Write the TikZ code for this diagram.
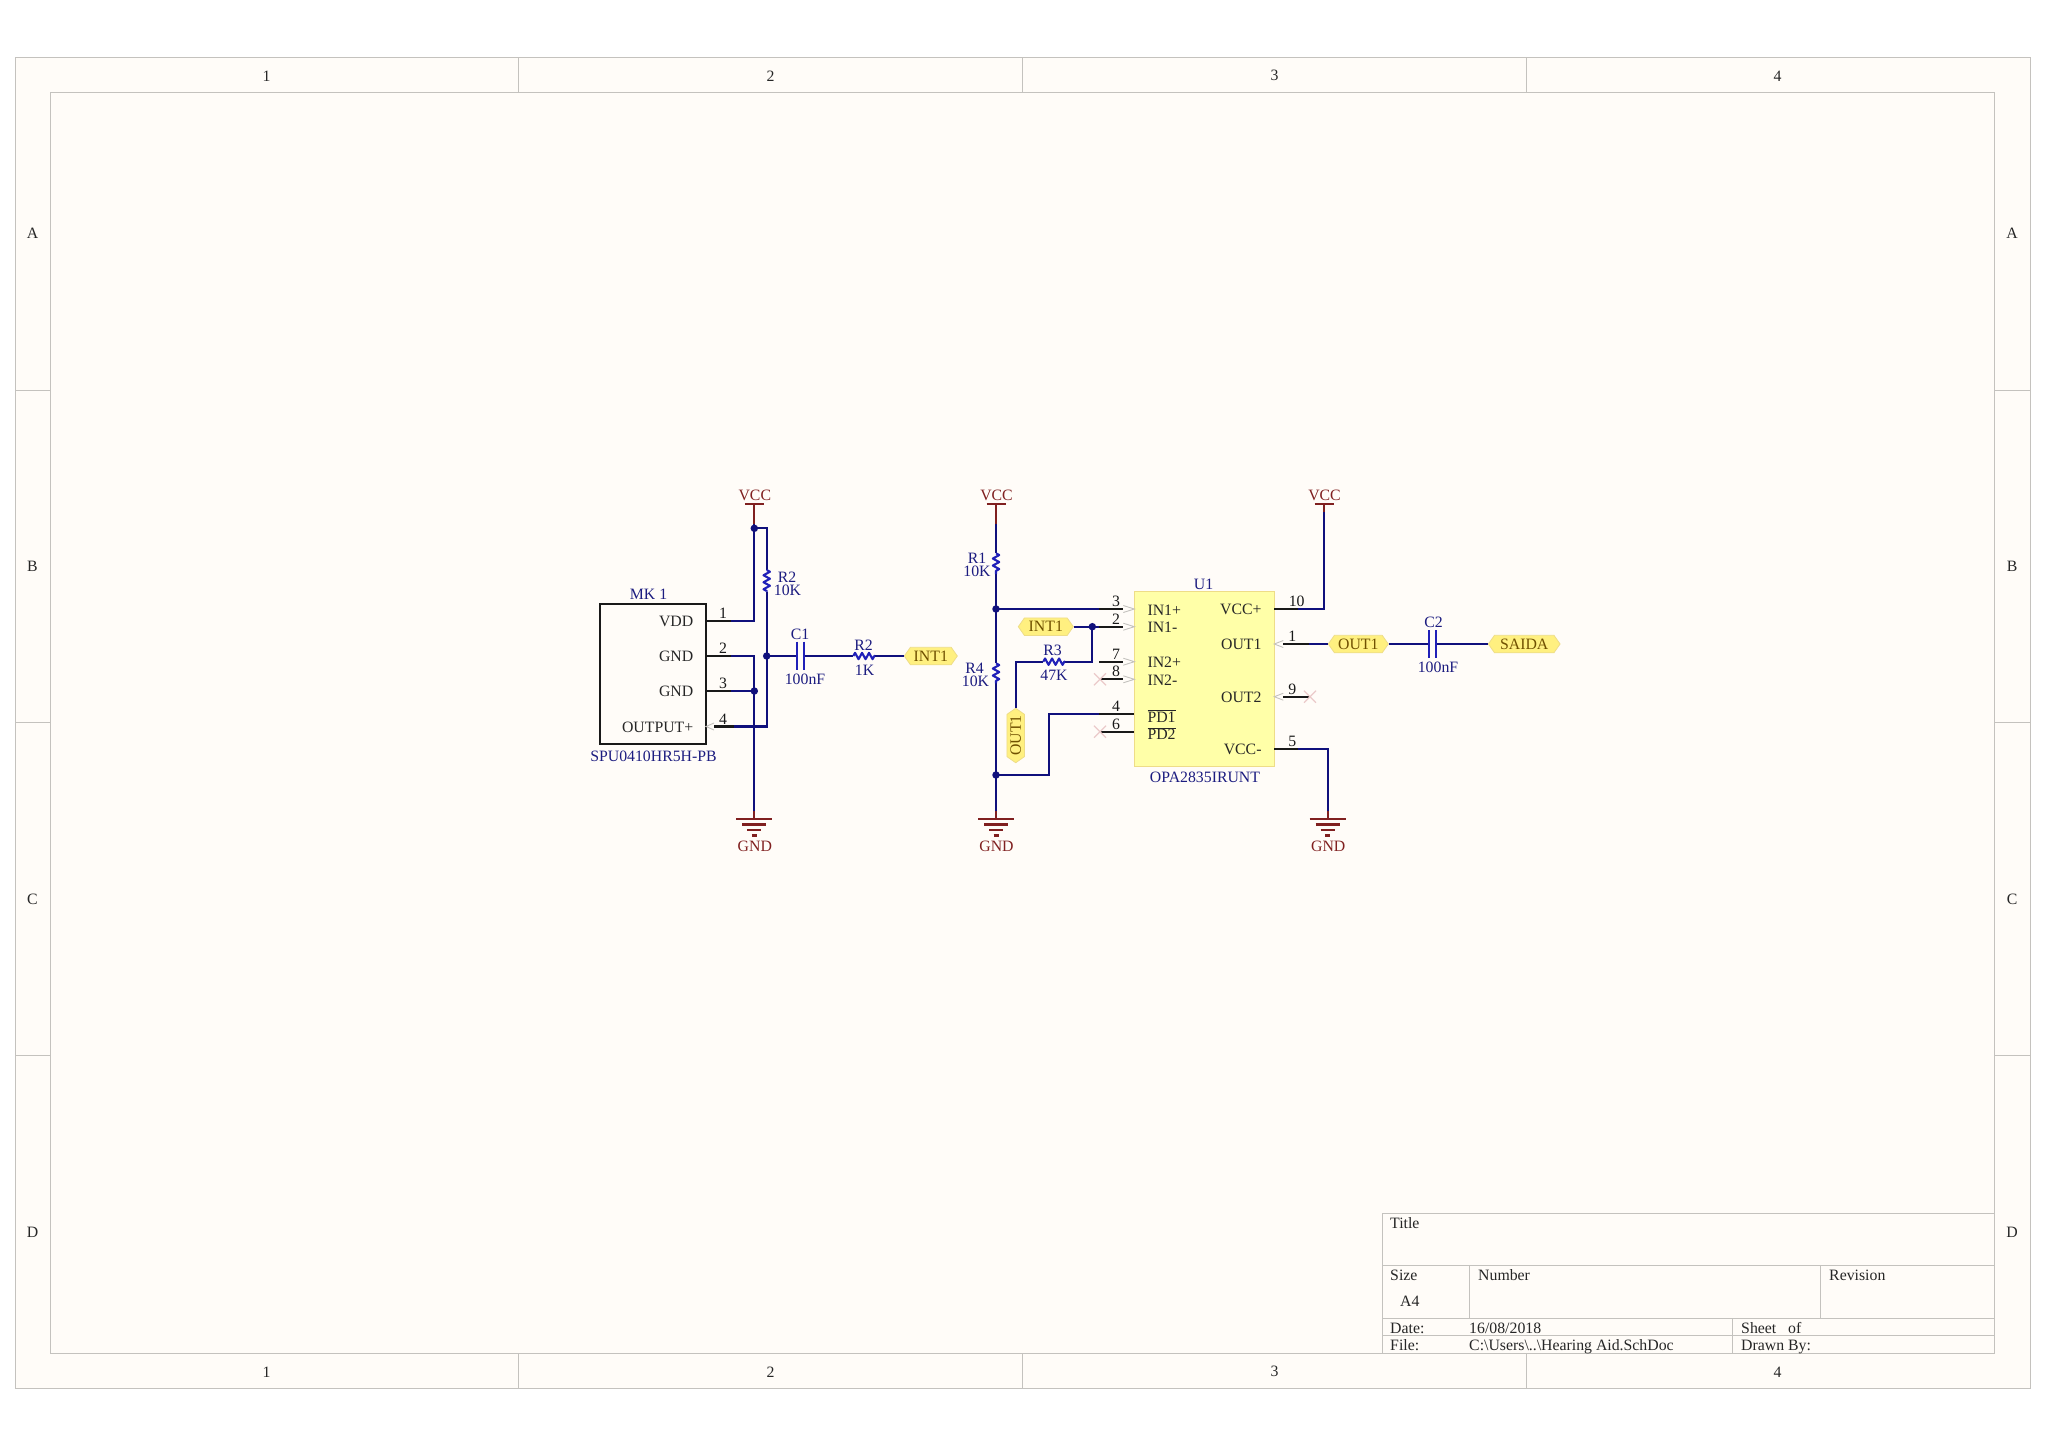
\documentclass[tikz,border=0pt]{standalone}
\usepackage{fontspec}
\setmainfont{Liberation Serif}
\usepackage{xcolor}
\usetikzlibrary{shapes.symbols,decorations.pathmorphing}
\definecolor{sheetbg}{HTML}{FFFCF8}
\definecolor{framegrey}{HTML}{C4C2BE}
\definecolor{wireblue}{HTML}{10107C}
\definecolor{partblue}{HTML}{2020B8}
\definecolor{textblue}{HTML}{1C1C80}
\definecolor{powerred}{HTML}{802020}
\definecolor{portfill}{HTML}{FFF080}
\definecolor{portline}{HTML}{EEDD88}
\definecolor{porttext}{HTML}{705000}
\definecolor{chipfill}{HTML}{FFFFA8}
\definecolor{crossred}{HTML}{EBCACA}
\newcommand{\vccport}[2]{% name, x
  \coordinate (#1) at (#2,504);
  \draw[powerline] (#2-9.5,504) -- (#2+9.5,504);
  \node[powertext] (#1t) at (#2+.5,495) {VCC};
}
\newcommand{\gndport}[2]{% name, x
  \coordinate (#1) at (#2,819);
  \draw[powerline] (#2-18,819) -- (#2+18,819) (#2-12,824.5) -- (#2+12,824.5)
    (#2-7,830) -- (#2+7,830) (#2-2.5,835.5) -- (#2+2.5,835.5);
  \node[powertext] (#1t) at (#2+.5,846) {GND};
}
\begin{document}
\begin{tikzpicture}[x=1pt,y=-1pt,
every node/.style={font=\fontsize{15.8}{17}\selectfont, inner sep=0pt},
frameline/.style={draw=framegrey, line width=1pt},
sheetlabel/.style={text=black!85, yshift=-.8pt},
wire/.style={draw=wireblue, line width=2.1pt},
pinline/.style={draw=black!90, line width=2.1pt},
pinmark/.style={draw=framegrey, line width=.9pt},
crossmark/.style={draw=crossred, line width=1.2pt},
powerline/.style={draw=powerred, line width=2.1pt},
powertext/.style={text=powerred, yshift=-.8pt},
junction/.style={circle, fill=wireblue, minimum size=7.5pt},
parttext/.style={text=textblue, yshift=-.8pt},
pintext/.style={text=black!85, yshift=-.8pt},
pinlabel/.style={text=black!90, yshift=-.8pt},
port/.style={signal, signal to=east and west, signal pointer angle=110, draw=portline, fill=portfill,
  line width=.8pt, text=porttext, minimum height=17.5pt},
resistor/.style={draw=partblue, line width=2.1pt, line join=round, decorate,
  decoration={zigzag, amplitude=3.2pt, segment length=7pt}},
capplate/.style={draw=partblue, line width=2.2pt}]
\path[use as bounding box, fill=white] (0,0) rectangle (2048,1448);
% sheet border
\path[frameline, fill=sheetbg] (15,57.5) rectangle (2030,1388);
\draw[frameline] (50.5,92) rectangle (1994,1353);
\foreach \x in {518.75,1022.5,1526.25} {
  \draw[frameline] (\x,57.5) -- (\x,92) (\x,1353) -- (\x,1388);
}
\foreach \y in {390,722.7,1055.4} {
  \draw[frameline] (15,\y) -- (50.5,\y) (1994,\y) -- (2030,\y);
}
\foreach \x/\n in {266.5/1,770.5/2,1274.5/3,1777.5/4} {
  \node[sheetlabel] (top\n) at (\x,75) {\n};
  \node[sheetlabel] (bot\n) at (\x,1371) {\n};
}
\foreach \y/\n in {232.7/A,565.5/B,898.5/C,1231.5/D} {
  \node[sheetlabel] (left\n) at (32.5,\y) {\n};
  \node[sheetlabel] (right\n) at (2012,\y) {\n};
}
% title block
\draw[frameline] (1382,1353) -- (1382,1213) -- (1994,1213);
\draw[frameline] (1382,1265) -- (1994,1265) (1382,1318) -- (1994,1318) (1382,1335) -- (1994,1335);
\draw[frameline] (1469,1265) -- (1469,1318) (1820,1265) -- (1820,1318) (1732,1318) -- (1732,1353);
\foreach \x/\y/\t in {1390/1223/Title,1390/1275/Size,1400/1301/A4,1478/1275/Number,1829/1275/Revision,
  1390/1328/Date:,1469/1328/16\slash 08\slash 2018,1741/1328/Sheet\ \ \ of,
  1390/1345/File:,1469/1345/C:\textbackslash Users\textbackslash ..\textbackslash Hearing Aid.SchDoc,1741/1345/Drawn By:} {
  \node[sheetlabel, anchor=base west] at (\x,\y+5) {\t};
}
% microphone
\path[draw=black!90, line width=2pt, fill=sheetbg] (600,603.5) rectangle (705.5,744);
\node[parttext] (mk) at (648.5,593.5) {MK 1};
\node[parttext] (mkval) at (653.5,755.5) {SPU0410HR5H-PB};
\foreach \y/\n/\t in {621/1/VDD,656/2/GND,691/3/GND,726.5/4/OUTPUT+} {
  \coordinate (mk\n) at (706,\y);
  \node[pintext, anchor=east] (mkt\n) at (693.5,\y) {\t};
  \node[pinlabel] (mkn\n) at (723,\y-8.5) {\n};
}
% power ports
\vccport{vcca}{754.3}
\vccport{vccb}{996}
\vccport{vccc}{1324}
\gndport{gnda}{754.3}
\gndport{gndb}{996}
\gndport{gndc}{1327.7}
% input network
\coordinate (topdot) at (754.3,528.3);
\coordinate (rtwotop) at (766.7,570);
\coordinate (rtwobot) at (766.7,591.7);
\coordinate (cnode) at (766.7,656);
\coordinate (cleft) at (796.7,656);
\coordinate (cright) at (804,656);
\coordinate (rinl) at (853.3,656);
\coordinate (rinr) at (875,656);
\node[port, minimum width=53pt] (intone) at (930.8,656) {INT1};
\node[parttext] (rtwoa) at (787,576) {R2};
\node[parttext] (rtwob) at (787.5,590) {10K};
\node[parttext] (ca) at (800,634) {C1};
\node[parttext] (cb) at (805,679) {100nF};
\node[parttext] (rina) at (863.5,644) {R2};
\node[parttext] (rinb) at (864.5,669) {1K};
\draw[wire] (vcca) -- (mk1 -| topdot) -- (mk1);
\draw[wire] (topdot) -- (topdot -| rtwotop) -- (rtwotop);
\draw[wire] (rtwobot) -- (mk4 -| rtwobot) -- ([xshift=8pt]mk4);
\draw[wire] (mk2) -- (mk2 -| gnda) -- (gnda);
\draw[wire] (mk3) -- (mk3 -| gnda);
\draw[wire] (cnode) -- (cleft) (cright) -- (rinl) (rinr) -- (intone.west);
\draw[resistor] (rtwotop) -- (rtwobot);
\draw[resistor] (rinl) -- (rinr);
\draw[capplate] (796.7,641.7) -- (796.7,670) (804,641.7) -- (804,670);
\foreach \n/\l in {1/25,2/25,3/25} {
  \draw[pinline] (mk\n) -- ([xshift=\l pt]mk\n);
}
\draw[pinline] ([xshift=8pt]mk4) -- ([xshift=28pt]mk4);
\draw[pinmark] ([xshift=8pt,yshift=-3.5pt]mk4) -- (mk4) -- ([xshift=8pt,yshift=3.5pt]mk4);
\node[junction] (dota) at (topdot) {};
\node[junction] (dotb) at (cnode) {};
\node[junction] (dotc) at (mk3 -| gnda) {};
\draw[powerline] (vcca) -- ++(0,20);
\foreach \n in {a} { \draw[powerline] (gnd\n) -- ++(0,-8); }
% amplifier
\path[fill=chipfill, draw=portline, line width=1pt] (1134.3,591.7) rectangle (1274.3,766);
\node[parttext] (uname) at (1203.5,583.5) {U1};
\node[parttext] (uval) at (1205,776.5) {OPA2835IRUNT};
\foreach \y/\n/\t/\d in {609/3/IN1+/600.7,626.7/2/IN1-/618.3,661.7/7/IN2+/653.3,679.3/8/IN2-/670.7} {
  \coordinate (pin\n) at (1134.3,\y);
  \node[pintext, anchor=west] (pint\n) at (1147.3,\y) {\t};
  \node[pinlabel] (pinn\n) at (1116,\d) {\n};
  \draw[pinline] ([xshift=-35pt]pin\n) -- ([xshift=-11pt]pin\n);
  \draw[pinmark] ([xshift=-11pt,yshift=-3.5pt]pin\n) -- (pin\n) -- ([xshift=-11pt,yshift=3.5pt]pin\n);
}
\foreach \y/\n/\d in {714/4/705.7,731.7/6/724} {
  \coordinate (pin\n) at (1134.3,\y);
  \node[pinlabel] (pinn\n) at (1116,\d) {\n};
  \draw[pinline] ([xshift=-35pt]pin\n) -- (pin\n);
}
\node[pintext, anchor=west] (pint4) at (1147.3,715) {$\overline{\hbox{PD1}}$};
\node[pintext, anchor=west] (pint6) at (1147.3,732.7) {$\overline{\hbox{PD2}}$};
\foreach \y/\n/\t/\d in {609/10/VCC+/600.7,644/1/OUT1/635.7,696.7/9/OUT2/688.3,749/5/VCC-/740.7} {
  \coordinate (pout\n) at (1274.3,\y);
  \node[pintext, anchor=east] (poutt\n) at (1261.7,\y) {\t};
}
\node[pinlabel] (poutn10) at (1296.7,600.7) {10};
\node[pinlabel] (poutn1) at (1292.3,635.7) {1};
\node[pinlabel] (poutn9) at (1292.3,688.3) {9};
\node[pinlabel] (poutn5) at (1292.3,740.7) {5};
\coordinate (rfourtop) at (996,663.3);
\coordinate (rfourbot) at (996,683.3);
\coordinate (ronetop) at (996,553.3);
\coordinate (ronebot) at (996,574);
\coordinate (pddot) at (996,775);
\coordinate (feed) at (1092.3,626.7);
\coordinate (rfbr) at (1065,661.7);
\coordinate (rfbl) at (1043.3,661.7);
\node[port, rotate=90, minimum width=54.5pt] (outfb) at (1015.7,735.5) {OUT1};
\node[port, minimum width=55pt] (intfb) at (1045.8,626.7) {INT1};
\node[port, minimum width=60pt] (outone) at (1358.3,644) {OUT1};
\node[port, minimum width=71.7pt] (saida) at (1524.2,644) {SAIDA};
\node[parttext] (ronea) at (977,557) {R1};
\node[parttext] (roneb) at (977,571) {10K};
\node[parttext] (rfoura) at (974.5,667.5) {R4};
\node[parttext] (rfourb) at (975.5,681) {10K};
\node[parttext] (rfba) at (1052.5,650) {R3};
\node[parttext] (rfbb) at (1054,674) {47K};
\node[parttext] (cca) at (1433.5,621.7) {C2};
\node[parttext] (ccb) at (1438,667) {100nF};
\coordinate (ccl) at (1429,644);
\coordinate (ccr) at (1436,644);
\draw[wire] (vccb) -- (ronetop) (ronebot) -- (rfourtop) (rfourbot) -- (gndb);
\draw[wire] (pin3 -| vccb) -- ([xshift=-11pt]pin3);
\draw[wire] (intfb.east) -- ([xshift=-11pt]pin2);
\draw[wire] (feed) -- (rfbr -| feed) -- (rfbr);
\draw[wire] (rfbl) -- (rfbl -| outfb.east) -- (outfb.east);
\draw[wire] (pddot) -- (pddot -| 1049,0) -- (pin4 -| 1049,0) -- ([xshift=-35pt]pin4);
\draw[wire] (pout10) -- (pout10 -| vccc) -- (vccc);
\draw[wire] (pout5) -- (pout5 -| gndc) -- (gndc);
\draw[wire] ([xshift=9pt]pout1) -- (outone.west);
\draw[wire] (outone.east) -- (ccl) (ccr) -- (saida.west);
\draw[resistor] (ronetop) -- (ronebot);
\draw[resistor] (rfourtop) -- (rfourbot);
\draw[resistor] (rfbl) -- (rfbr);
\draw[capplate] (1429,630) -- (1429,658.3) (1436,630) -- (1436,658.3);
% black pin stubs over the wires
\foreach \n/\l in {10/24,5/24} { \draw[pinline] (pout\n) -- ([xshift=\l pt]pout\n); }
\foreach \n in {1,9} {
  \draw[pinline] ([xshift=9pt]pout\n) -- ([xshift=35pt]pout\n);
  \draw[pinmark] ([xshift=9pt,yshift=-3.5pt]pout\n) -- (pout\n) -- ([xshift=9pt,yshift=3.5pt]pout\n);
}
\foreach \x/\y in {1100/679.3,1100/731.7,1310/696.7} {
  \draw[crossmark] (\x-6,\y-6) -- (\x+6,\y+6) (\x-6,\y+6) -- (\x+6,\y-6);
}
\draw[pinline] ([xshift=-35pt]pin3) -- ([xshift=-11pt]pin3);
\draw[pinline] ([xshift=-35pt]pin2) -- ([xshift=-11pt]pin2);
\draw[pinline] ([xshift=-35pt]pin4) -- (pin4);
\node[junction] (dotd) at (pin3 -| vccb) {};
\node[junction] (dote) at (pddot) {};
\node[junction] (dotf) at (feed) {};
\draw[powerline] (vccb) -- ++(0,20);
\draw[powerline] (vccc) -- ++(0,8);
\foreach \n in {b,c} { \draw[powerline] (gnd\n) -- ++(0,-8); }
\end{tikzpicture}
\end{document}
